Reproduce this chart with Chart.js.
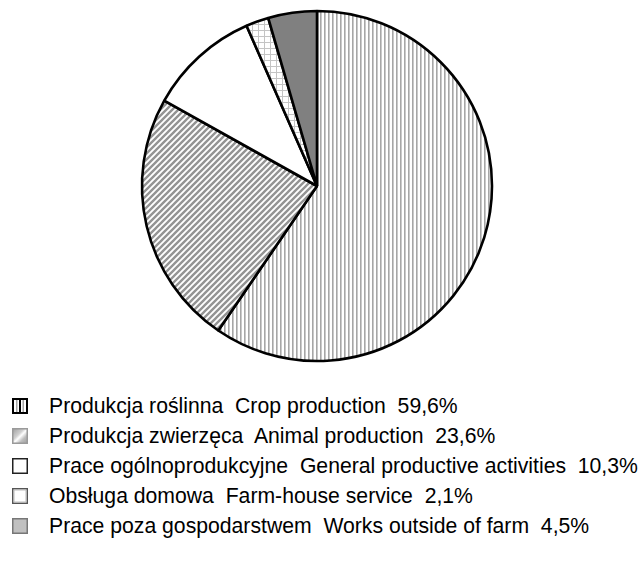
<!DOCTYPE html>
<html>
<head>
<meta charset="utf-8">
<script src="https://cdn.jsdelivr.net/npm/chart.js@4/dist/chart.umd.min.js"></script>
<style>
  html,body{margin:0;padding:0;background:#fff;}
  body{width:642px;height:563px;position:relative;overflow:hidden;font-family:"Liberation Sans",Arial,sans-serif;}
  #pie{position:absolute;left:0;top:0;}
  #legend{position:absolute;left:0;top:391px;width:642px;}
  .row{position:relative;height:30px;}
  .row canvas{position:absolute;left:12px;top:7px;}
  .row span{position:absolute;left:49px;top:0;line-height:30px;font-size:21.2px;color:#000;white-space:pre;}
</style>
</head>
<body>
<canvas id="pie" width="642" height="372"></canvas>
<div id="legend"></div>
<script>
const categoriesPl = ["Produkcja roślinna", "Produkcja zwierzęca", "Prace ogólnoprodukcyjne", "Obsługa domowa", "Prace poza gospodarstwem"];
const categoriesEn = ["Crop production", "Animal production", "General productive activities", "Farm-house service", "Works outside of farm"];
const shares = [59.6, 23.6, 10.3, 2.1, 4.5];
const shareLabels = ["59,6%", "23,6%", "10,3%", "2,1%", "4,5%"];

function makePattern(kind) {
  const c = document.createElement('canvas');
  const ctx = c.getContext('2d');
  if (kind === 'vertical') {
    c.width = 4; c.height = 4;
    ctx.fillStyle = '#fff'; ctx.fillRect(0,0,4,4);
    ctx.fillStyle = '#a6a6a6'; ctx.fillRect(0,0,1.6,4);
  } else if (kind === 'diagonal') {
    c.width = 6; c.height = 6;
    ctx.fillStyle = '#fff'; ctx.fillRect(0,0,6,6);
    ctx.strokeStyle = '#949494'; ctx.lineWidth = 2.4;
    ctx.beginPath();
    ctx.moveTo(-1,7); ctx.lineTo(7,-1);
    ctx.moveTo(-4,4); ctx.lineTo(4,-4);
    ctx.moveTo(2,10); ctx.lineTo(10,2);
    ctx.stroke();
  } else if (kind === 'grid') {
    c.width = 6; c.height = 6;
    ctx.fillStyle = '#fff'; ctx.fillRect(0,0,6,6);
    ctx.fillStyle = '#c4c4c4';
    ctx.fillRect(0,0,1,6); ctx.fillRect(0,0,6,1);
  }
  return ctx.createPattern(c, 'repeat');
}

const fills = [makePattern('vertical'), makePattern('diagonal'), '#ffffff', makePattern('grid'), '#808080'];

new Chart(document.getElementById('pie'), {
  type: 'pie',
  data: {
    labels: categoriesEn,
    datasets: [{
      data: shares,
      backgroundColor: fills,
      borderColor: '#000',
      borderWidth: 2.6,
      borderAlign: 'center'
    }]
  },
  options: {
    responsive: false,
    animation: false,
    radius: 175,
    layout: { padding: { left: 0, right: 8, top: 0, bottom: 0 } },
    plugins: { legend: { display: false }, tooltip: { enabled: false } }
  }
});

function drawSwatch(cv, i) {
  const ctx = cv.getContext('2d');
  const w = cv.width, h = cv.height;
  ctx.fillStyle = '#fff'; ctx.fillRect(0,0,w,h);
  if (i === 0) {
    ctx.fillStyle = '#a6a6a6';
    ctx.fillRect(4,1,1.5,h-2); ctx.fillRect(10.5,1,1.5,h-2);
    ctx.fillStyle = '#000';
    ctx.fillRect(7,1,2,h-2);
    ctx.strokeStyle = '#000'; ctx.lineWidth = 2;
    ctx.strokeRect(1,1,w-2,h-2);
  } else if (i === 1) {
    const g = ctx.createLinearGradient(0,0,w,h);
    g.addColorStop(0,'#9a9a9a'); g.addColorStop(0.4,'#d0d0d0'); g.addColorStop(0.52,'#ffffff'); g.addColorStop(0.7,'#bdbdbd'); g.addColorStop(1,'#9a9a9a');
    ctx.fillStyle = g; ctx.fillRect(0,0,w,h);
    ctx.strokeStyle = '#9a9a9a'; ctx.lineWidth = 1.5;
    ctx.strokeRect(0.75,0.75,w-1.5,h-1.5);
  } else if (i === 2) {
    ctx.strokeStyle = '#222'; ctx.lineWidth = 1.5;
    ctx.strokeRect(0.75,0.75,w-1.5,h-1.5);
  } else if (i === 3) {
    ctx.strokeStyle = '#555'; ctx.lineWidth = 1.5;
    ctx.strokeRect(0.75,0.75,w-1.5,h-1.5);
    ctx.strokeStyle = '#bbb'; ctx.lineWidth = 1;
    ctx.strokeRect(2,2,w-4,h-4);
  } else {
    ctx.fillStyle = '#c0c0c0'; ctx.fillRect(0,0,w,h);
    ctx.strokeStyle = '#777'; ctx.lineWidth = 1.5;
    ctx.strokeRect(0.75,0.75,w-1.5,h-1.5);
  }
}

const legend = document.getElementById('legend');
categoriesPl.forEach((pl, i) => {
  const row = document.createElement('div');
  row.className = 'row';
  const cv = document.createElement('canvas');
  cv.width = 16; cv.height = 16;
  drawSwatch(cv, i);
  const sp = document.createElement('span');
  sp.textContent = pl + '  ' + categoriesEn[i] + '  ' + shareLabels[i];
  row.appendChild(cv); row.appendChild(sp);
  legend.appendChild(row);
});
</script>
</body>
</html>
